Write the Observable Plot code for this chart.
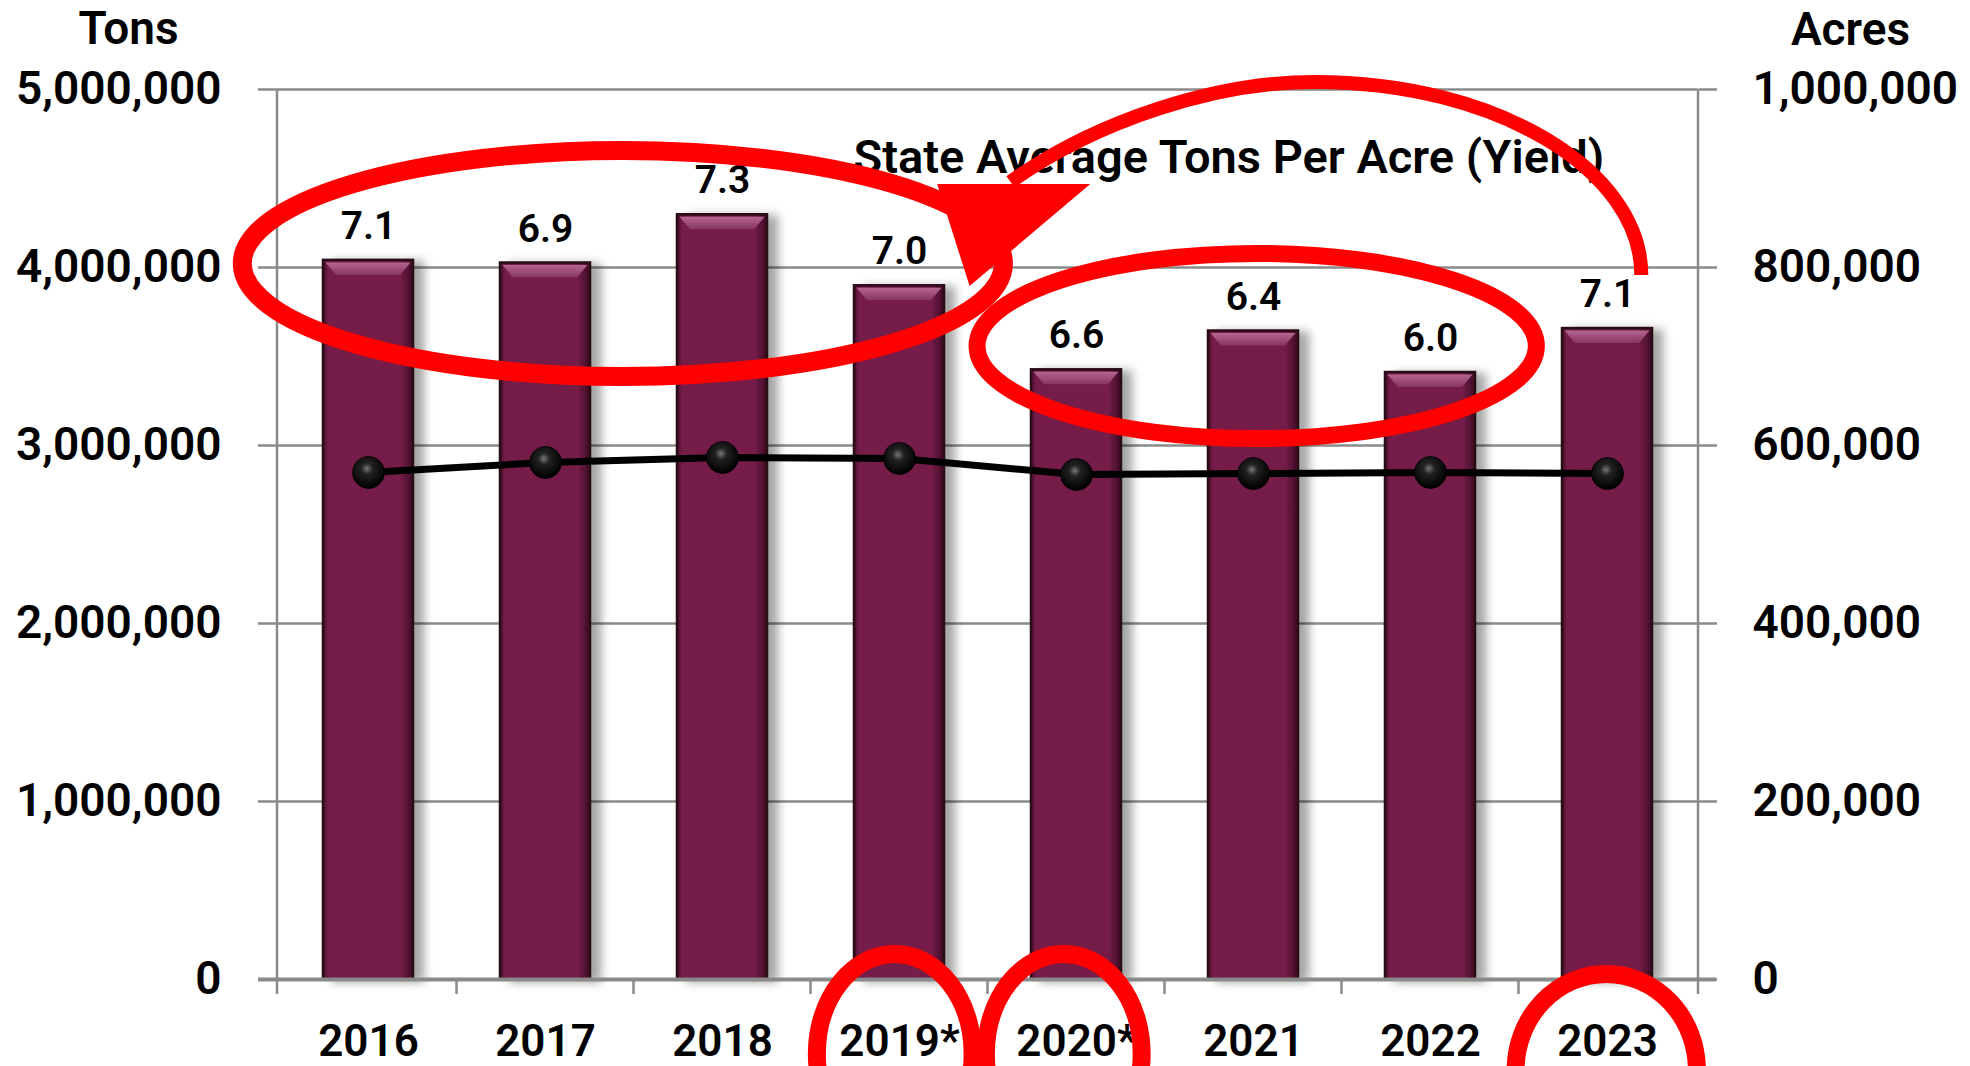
<!DOCTYPE html>
<html><head><meta charset="utf-8">
<script src="https://cdn.jsdelivr.net/npm/d3@7"></script>
<script src="https://cdn.jsdelivr.net/npm/@observablehq/plot@0.6"></script>
<style>
html,body{margin:0;padding:0;background:#fff;overflow:hidden;}
#chart svg{display:block;}
</style></head><body><div id="chart"></div>
<script>
// ---- data ----
const years = ["2016", "2017", "2018", "2019*", "2020*", "2021", "2022", "2023"];
const tons = [4040000, 4025000, 4296000, 3897000, 3425000, 3643000, 3410000, 3657000];
const acres = [569700, 580900, 586500, 585400, 567400, 568500, 569700, 568500];
const yields = [7.1, 6.9, 7.3, 7.0, 6.6, 6.4, 6.0, 7.1];
const tonTicks = [0, 1000000, 2000000, 3000000, 4000000, 5000000];
const acresMax = 1000000, tonsMax = 5000000;
const titleText = "State Average Tons Per Acre (Yield)";
const leftLabel = "Tons", rightLabel = "Acres";

// hand-drawn red annotations, in data units (x: category units from frame left, y: tons)
const annotEllipses = [
  {cx: 1.954, cy: 4020000, rx: 2.15, ry: 635000, w: 19},
  {cx: 5.535, cy: 3556000, rx: 1.58, ry: 520000, w: 17},
  {cx: 3.49, cy: -421000, rx: 0.44, ry: 562000, w: 18},
  {cx: 4.445, cy: -421000, rx: 0.44, ry: 562000, w: 18},
  {cx: 7.51, cy: -511000, rx: 0.512, ry: 539000, w: 18}
];
const annotArc = [[4.144, 4478000], [4.634, 4826000], [5.310, 5040000], [5.867, 5040000], [6.886, 5040000], [7.708, 4545000], [7.708, 3955000]];
const annotArrow = [[3.73, 4466000], [4.595, 4466000], [3.913, 3893000]];

const ratio = tonsMax / acresMax;
const data = years.map((year, i) => ({year, tons: tons[i], acres: acres[i], yield: yields[i]}));

const NS = "http://www.w3.org/2000/svg";
function el(name, attrs) {
  const e = document.createElementNS(NS, name);
  for (const k in attrs) e.setAttribute(k, attrs[k]);
  return e;
}
function grad(id, attrs, stops, radial) {
  const g = el(radial ? "radialGradient" : "linearGradient", Object.assign({id}, attrs));
  stops.forEach(([o, c]) => g.appendChild(el("stop", {offset: o, "stop-color": c})));
  return g;
}
function defsMark() {
  const defs = el("defs", {});
  defs.appendChild(grad("barGrad", {x1: 0, x2: 1, y1: 0, y2: 0},
    [[0, "#4e0f2e"], [0.06, "#741d48"], [0.86, "#741d48"], [1, "#3e0b24"]]));
  defs.appendChild(grad("bevelGrad", {x1: 0, x2: 0, y1: 0, y2: 1},
    [[0, "#b46690"], [1, "#87355f"]]));
  defs.appendChild(grad("dotGrad", {cx: 0.45, cy: 0.38, r: 0.6},
    [[0, "#777"], [0.3, "#222"], [1, "#000"]], true));
  const f = el("filter", {id: "barShadow", x: "-5%", y: "-5%", width: "110%", height: "110%"});
  f.appendChild(el("feDropShadow", {dx: 10, dy: 2, stdDeviation: 5, "flood-color": "#000", "flood-opacity": 0.35}));
  defs.appendChild(f);
  return defs;
}
function bw(sx) {
  return typeof sx.bandwidth === "function" ? sx.bandwidth() : (sx(years[1]) - sx(years[0])) * 0.51;
}
function frameMark(index, scales, values, dims) {
  const g = el("g", {stroke: "#8a8a8a", "stroke-width": 2.5});
  const x0 = dims.marginLeft, x1 = dims.width - dims.marginRight;
  const yt = dims.marginTop, yb = dims.height - dims.marginBottom;
  const sx = scales.x, b = bw(sx);
  [x0, x1].forEach(x => g.appendChild(el("line", {x1: x, x2: x, y1: yt, y2: yb + 15})));
  for (let i = 1; i < years.length; i++) {
    const x = (sx(years[i - 1]) + sx(years[i]) + b) / 2;
    g.appendChild(el("line", {x1: x, x2: x, y1: yb, y2: yb + 15}));
  }
  return g;
}
function bevelMark(index, scales) {
  const g = el("g", {});
  const sx = scales.x, b = bw(sx);
  data.forEach(d => {
    const x = sx(d.year), y = scales.y(d.tons);
    const pts = [[x + 2.5, y + 2.5], [x + b - 2.5, y + 2.5], [x + b - 13, y + 15], [x + 13, y + 15]];
    g.appendChild(el("polygon", {points: pts.map(p => p.join(",")).join(" "), fill: "url(#bevelGrad)"}));
  });
  return g;
}
function annotMark(index, scales, values, dims) {
  const g = el("g", {fill: "none", stroke: "#ff0000"});
  const step = scales.x(years[1]) - scales.x(years[0]);
  const X = u => dims.marginLeft + u * step;
  const Y = v => scales.y(v);
  const ppu = Y(0) - Y(1);
  annotEllipses.forEach(e => {
    g.appendChild(el("ellipse", {cx: X(e.cx), cy: Y(e.cy), rx: e.rx * step, ry: e.ry * ppu, "stroke-width": e.w}));
  });
  const a = annotArc.map(([u, v]) => [X(u), Y(v)].join(","));
  g.appendChild(el("path", {d: `M${a[0]}C${a[1]} ${a[2]} ${a[3]}C${a[4]} ${a[5]} ${a[6]}`, "stroke-width": 14}));
  const t = annotArrow.map(([u, v]) => [X(u), Y(v)].join(","));
  g.appendChild(el("polygon", {points: t.join(" "), fill: "#ff0000", stroke: "none"}));
  return g;
}

const fmt = d3.format(",");
const grey = "#8a8a8a";
const plot = Plot.plot({
  width: 1970, height: 1066,
  marginLeft: 277, marginRight: 272, marginTop: 89, marginBottom: 87,
  style: {fontFamily: "Roboto, 'Liberation Sans', sans-serif", fontWeight: 600, color: "#000", background: "#fff", overflow: "hidden"},
  x: {domain: years, paddingInner: 0.49, paddingOuter: 0.245, align: 0.5},
  y: {domain: [0, tonsMax]},
  marks: [
    defsMark,
    Plot.gridY({ticks: tonTicks, stroke: grey, strokeOpacity: 1, strokeWidth: 2.5}),
    frameMark,
    Plot.barY(data, {x: "year", y: "tons", fill: "url(#barGrad)", stroke: "#260716", strokeWidth: 2.5}),
    bevelMark,
    Plot.ruleY([0], {stroke: grey, strokeWidth: 4, insetLeft: -19, insetRight: -18}),
    Plot.axisY({anchor: "left", ticks: tonTicks, tickFormat: fmt, tickSize: 19, tickPadding: 37,
      stroke: grey, strokeWidth: 2.5, fill: "#000", fontSize: 46, label: null}),
    Plot.axisY({anchor: "right", ticks: tonTicks, tickFormat: d => fmt(d / ratio), tickSize: 18, tickPadding: 36,
      stroke: grey, strokeWidth: 2.5, fill: "#000", fontSize: 46, label: null}),
    Plot.axisX({anchor: "bottom", tickSize: 0, tickPadding: 45, fill: "#000", fontSize: 44, label: null}),
    Plot.line(data, {x: "year", y: d => d.acres * ratio, stroke: "#000", strokeWidth: 7}),
    Plot.dot(data, {x: "year", y: d => d.acres * ratio, r: 16, fill: "url(#dotGrad)", stroke: "#000", strokeWidth: 0.8}),
    Plot.text(data, {x: "year", y: "tons", text: d => d.yield.toFixed(1), dy: -34, lineAnchor: "middle", fontSize: 39, fill: "#000"}),
    Plot.text([titleText], {text: d => d, frameAnchor: "top-left", dx: 576, dy: 68, textAnchor: "start", lineAnchor: "middle", fontSize: 47, fill: "#000"}),
    Plot.text([leftLabel], {text: d => d, frameAnchor: "top-left", dx: -149, dy: -60, textAnchor: "middle", lineAnchor: "middle", fontSize: 46, fill: "#000"}),
    Plot.text([rightLabel], {text: d => d, frameAnchor: "top-right", dx: 152, dy: -59, textAnchor: "middle", lineAnchor: "middle", fontSize: 46, fill: "#000"}),
    annotMark
  ]
});
const barG = plot.querySelector('g[aria-label="bar"]');
if (barG) barG.setAttribute("filter", "url(#barShadow)");
document.getElementById("chart").appendChild(plot);
</script></body></html>
